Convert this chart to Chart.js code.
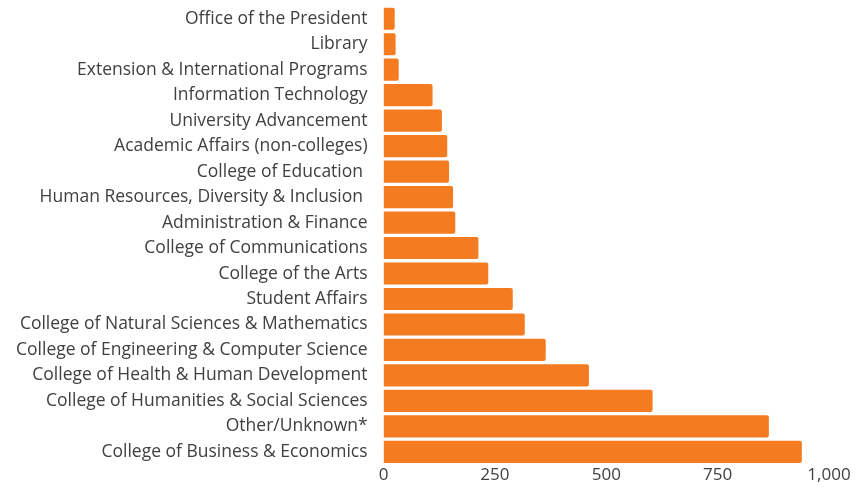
<!DOCTYPE html>
<html>
<head>
<meta charset="utf-8">
<script src="https://cdn.jsdelivr.net/npm/chart.js@4/dist/chart.umd.min.js"></script>
<style>
  html,body{margin:0;padding:0;background:#fff}
  .wrap{width:867px;height:487px;position:relative}
</style>
</head>
<body>
<div class="wrap"><canvas id="c"></canvas></div>
<script>
const units = ['Office of the President','Library','Extension & International Programs','Information Technology','University Advancement','Academic Affairs (non-colleges)','College of Education ','Human Resources, Diversity & Inclusion ','Administration & Finance','College of Communications','College of the Arts','Student Affairs','College of Natural Sciences & Mathematics','College of Engineering & Computer Science','College of Health & Human Development','College of Humanities & Social Sciences','Other/Unknown*','College of Business & Economics']
const counts = [25,27,34,110,131,143,147,156,161,213,235,290,317,364,461,604,865,939]
const xTicks = [0,250,500,750,1000]

const ORANGE = '#F47B20', TXT = '#404040'

new Chart(document.getElementById('c'),{
  type:'bar',
  data:{
    labels:units,
    datasets:[{ data:counts, backgroundColor:ORANGE, borderWidth:0, borderRadius:2, borderSkipped:'start',
      barPercentage:0.87, categoryPercentage:1 }]
  },
  options:{
    indexAxis:'y', responsive:true, maintainAspectRatio:false, animation:false,
    layout:{ padding:{left:0,right:38,top:6,bottom:2} },
    plugins:{ legend:{display:false}, tooltip:{enabled:false} },
    scales:{
      x:{ min:0, max:1000, border:{display:false}, grid:{display:false,drawTicks:false},
        afterBuildTicks:ax=>{ ax.ticks = xTicks.map(v=>({value:v})) },
        ticks:{ color:TXT, padding:0, font:{family:'Open Sans',size:17},
          callback:v=>v.toLocaleString('en-US') } },
      y:{ border:{display:false}, grid:{display:false,drawTicks:false},
        afterFit:ax=>{ ax.paddingTop = 0; ax.paddingBottom = 0 },
        ticks:{ color:TXT, padding:16, autoSkip:false, font:{family:'Open Sans',size:17.5} } }
    }
  }
})
</script>
</body>
</html>
